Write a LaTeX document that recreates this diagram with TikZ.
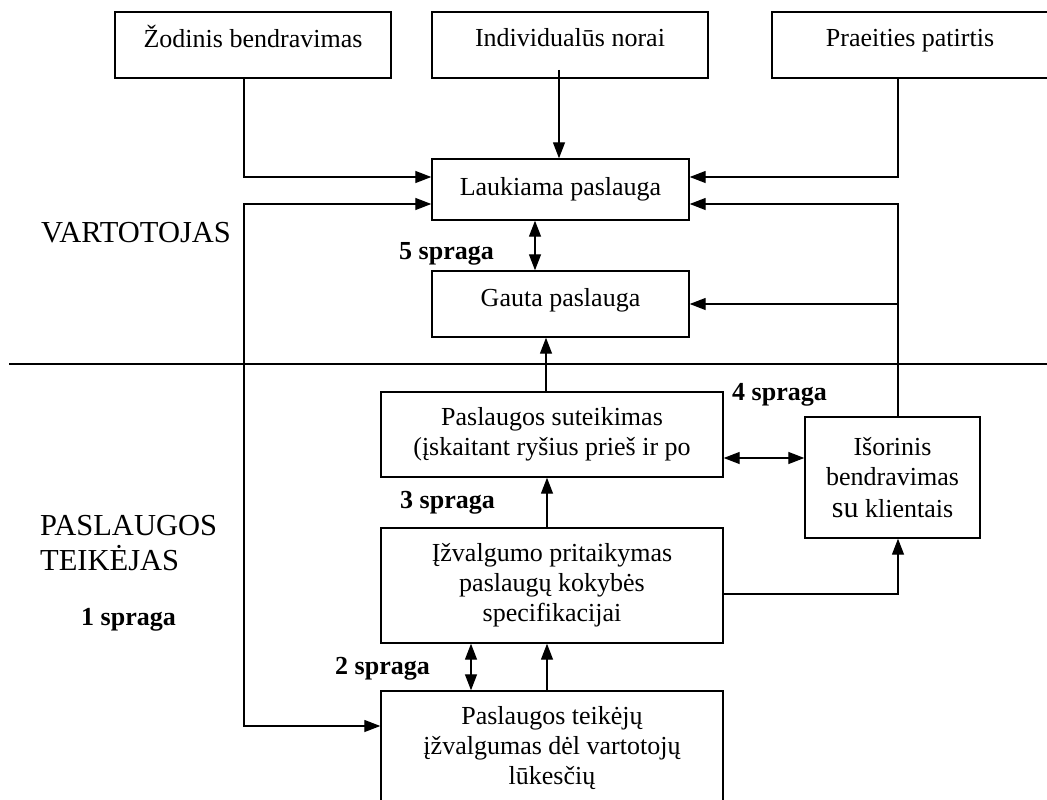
\documentclass[tikz,border=0pt]{standalone}
\usepackage{fontspec}
\setmainfont{Liberation Serif}
\usetikzlibrary{arrows.meta}
\begin{document}
\begin{tikzpicture}[x=1pt,y=-1pt,
  box/.style={draw,line width=1.4pt,rectangle,inner sep=0pt,align=center,
    font=\fontsize{26}{30}\selectfont},
  conn/.style={line width=1.3pt},
  arr/.style={conn,-{Triangle[length=16pt,width=12pt]}},
  darr/.style={conn,{Triangle[length=16pt,width=12pt]}-{Triangle[length=16pt,width=12pt]}},
  side/.style={inner sep=0pt,anchor=west,align=left,font=\fontsize{30.5}{35}\selectfont},
  gaplbl/.style={inner sep=0pt,anchor=west,font=\fontsize{26}{30}\selectfont\bfseries}]
\useasboundingbox (0,0) rectangle (1047,800);
% boxes
\node[box,minimum width=276pt,minimum height=66pt] (zod) at (253,45) {\raisebox{4pt}[\height][\depth]{\strut Žodinis bendravimas}};
\node[box,minimum width=276pt,minimum height=66pt] (ind) at (570,45) {\raisebox{4pt}[\height][\depth]{\strut Individualūs norai}};
\node[box,minimum width=276pt,minimum height=66pt] (pra) at (910,45) {\raisebox{4pt}[\height][\depth]{\strut Praeities patirtis}};
\node[box,minimum width=257pt,minimum height=61pt] (lauk) at (560.5,189.5) {Laukiama paslauga};
\node[box,minimum width=257pt,minimum height=66pt] (gauta) at (560.5,304) {\raisebox{4pt}[\height][\depth]{Gauta paslauga}};
\node[box,minimum width=342pt,minimum height=85pt] (sut) at (552,434.5) {Paslaugos suteikimas\\(įskaitant ryšius prieš ir po};
\node[box,minimum width=175pt,minimum height=121pt] (isor) at (892.5,477.5) {Išorinis\\bendravimas\\[2pt]{\fontsize{30}{30}\selectfont su} klientais};
\node[box,minimum width=342pt,minimum height=115pt] (izv) at (552,585.5) {Įžvalgumo pritaikymas\\paslaugų kokybės\\specifikacijai};
\node[box,minimum width=342pt,minimum height=114pt] (tei) at (552,748) {Paslaugos teikėjų\\įžvalgumas dėl vartotojų\\lūkesčių};
% side labels
\node[side] (vart) at (41,233) {VARTOTOJAS};
\node[side] (pteik) at (40,543.5) {PASLAUGOS\\TEIKĖJAS};
\node[gaplbl] (g1) at (81,620) {1 spraga};
\node[gaplbl] (g2) at (335,669) {2 spraga};
\node[gaplbl] (g3) at (400,503) {3 spraga};
\node[gaplbl] (g4) at (732,395) {4 spraga};
\node[gaplbl] (g5) at (399,254) {5 spraga};
% separator
\coordinate (s1) at (9,364);
\coordinate (s2) at (1050,364);
\draw[conn] (s1) -- (s2);
% helper coordinates
\coordinate (a1) at (244,177);
\coordinate (a2) at (898,177);
\coordinate (ind0) at (559,70);
\coordinate (l1) at (244,204);
\coordinate (l2) at (244,726);
\coordinate (r1) at (898,204);
\coordinate (r2) at (898,304);
\coordinate (r3) at (898,594);
\coordinate (x1) at (535,0);
\coordinate (x2) at (546,0);
\coordinate (x3) at (547,0);
\coordinate (x4) at (471,0);
\coordinate (y1) at (0,458);
% connectors
\draw[arr] (zod.south -| a1) |- (lauk.west |- a1);
\draw[arr] (ind0) -- (lauk.north -| ind0);
\draw[arr] (pra.south -| a2) |- (lauk.east |- a2);
\draw[darr] (lauk.west |- l1) -- (l1) -- (l2) -- (tei.west |- l2);
\draw[arr] (isor.north -| r1) -- (r1) -- (lauk.east |- r1);
\draw[arr] (r2) -- (gauta.east |- r2);
\draw[darr] (lauk.south -| x1) -- (gauta.north -| x1);
\draw[arr] (sut.north -| x2) -- (gauta.south -| x2);
\draw[darr] (sut.east |- y1) -- (isor.west |- y1);
\draw[arr] (izv.north -| x3) -- (sut.south -| x3);
\draw[arr] (izv.east |- r3) -- (r3) -- (isor.south -| r3);
\draw[darr] (izv.south -| x4) -- (tei.north -| x4);
\draw[arr] (tei.north -| x3) -- (izv.south -| x3);
\end{tikzpicture}
\end{document}
